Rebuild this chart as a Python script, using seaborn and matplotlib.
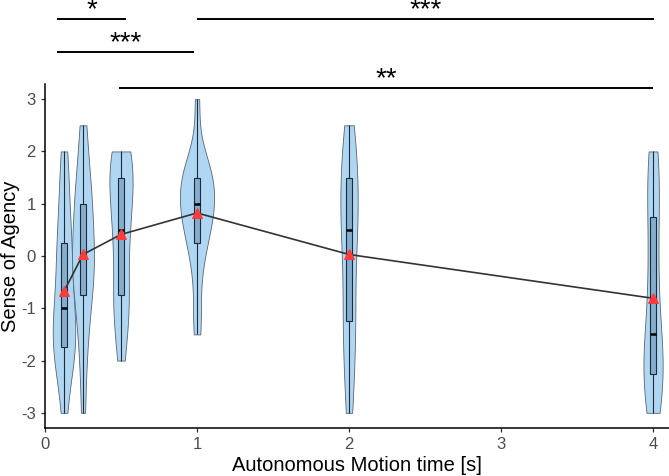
import pandas as pd
import matplotlib.pyplot as plt
import seaborn as sns

# === Data (ratings per autonomous motion time) ===
times = [0.125, 0.25, 0.5, 1, 2, 4]
agency_0125 = [-3, -2.25, -2, -1.75, -1.75, -1.5, -1.5, -1, -1, -0.75, -0.25, 0, 0.25, 0.5, 1, 1.5, 2]
agency_025 = [-3, -2, -1.5, -1, -0.75, -0.5, -0.25, 0, 0, 0, 0.5, 1, 1, 1, 1.5, 2, 2.5]
agency_05 = [-2, -1.5, -1, -1, -0.75, -0.25, 0, 0.5, 0.5, 1, 1, 1.5, 1.5, 1.5, 2, 2, 2]
agency_1 = [-1.5, -1, -0.25, 0.25, 0.25, 0.5, 0.75, 1, 1, 1, 1, 1.5, 1.5, 1.5, 1.75, 1.75, 3]
agency_2 = [-3, -2.5, -2, -1.5, -1.25, -1, -0.5, 0, 0.5, 0.5, 0.75, 1, 1.5, 1.5, 2, 2, 2.5]
agency_4 = [-3, -2.75, -2.5, -2.5, -2.25, -2, -1.75, -1.5, -1.5, -0.75, -0.25, 0, 0.75, 1, 1.5, 1.75, 2]

# significance brackets: (start, end, height, label)
sig_start = [0.079, 1.0, 0.079, 0.487]
sig_end = [0.533, 4.007, 0.98, 4.0]
sig_y = [4.53, 4.53, 3.90, 3.21]
sig_label = ["*", "***", "***", "**"]

# === Combine ===
groups = [agency_0125, agency_025, agency_05, agency_1, agency_2, agency_4]
df = pd.concat([pd.DataFrame({"time": t, "agency": g}) for t, g in zip(times, groups)],
               ignore_index=True)

# === Plot ===
sns.set_theme(style="ticks")
plt.rcParams["font.family"] = ["Liberation Sans", "DejaVu Sans"]
plt.rcParams["axes.unicode_minus"] = False

fig = plt.figure(figsize=(6.69, 4.76), dpi=100)
ax = fig.add_axes([45 / 669, 48 / 476, 624 / 669, 344 / 476])

sns.violinplot(data=df, x="time", y="agency", native_scale=True, cut=0, inner=None,
               density_norm="area", width=1.8, bw_method="scott", bw_adjust=0.8,
               color="#AFD6F3", saturation=1, linecolor="#5A6470", linewidth=0.6, ax=ax)
sns.boxplot(data=df, x="time", y="agency", native_scale=True, width=0.34,
            color="#86ADCC", saturation=1, linecolor="#1E2A35", linewidth=0.8,
            showcaps=False, showfliers=False,
            medianprops=dict(color="black", linewidth=1.8), ax=ax)
sns.lineplot(data=df, x="time", y="agency", estimator="mean", errorbar=None,
             color="#333333", lw=1.2, marker="^", markersize=6.5,
             markerfacecolor="#FF3B3B", markeredgecolor="#FF3B3B", ax=ax, zorder=5)

for x0, x1, y, lab in zip(sig_start, sig_end, sig_y, sig_label):
    ax.plot([x0, x1], [y, y], color="black", lw=1.4, clip_on=False, solid_capstyle="butt")
    ax.text((x0 + x1) / 2, y + 0.04, lab, ha="center", va="baseline", fontsize=20,
            color="black", clip_on=False)

ax.set_xlim(0, 4.105)
ax.set_ylim(-3.29, 3.29)
ax.set_xticks([0, 1, 2, 3, 4])
ax.set_yticks([-3, -2, -1, 0, 1, 2, 3])
ax.set_xlabel("Autonomous Motion time [s]", fontsize=14.5, color="black", labelpad=3)
ax.set_ylabel("Sense of Agency", fontsize=14.5, color="black")
ax.yaxis.set_label_coords(-0.040, 0.5)
ax.tick_params(labelsize=12, labelcolor="#4D4D4D", color="#333333", length=3,
               width=0.9, pad=3.5)
sns.despine(ax=ax)
for s in ["left", "bottom"]:
    ax.spines[s].set_color("black")
    ax.spines[s].set_linewidth(1.1)

fig.savefig("out.png", dpi=100)
